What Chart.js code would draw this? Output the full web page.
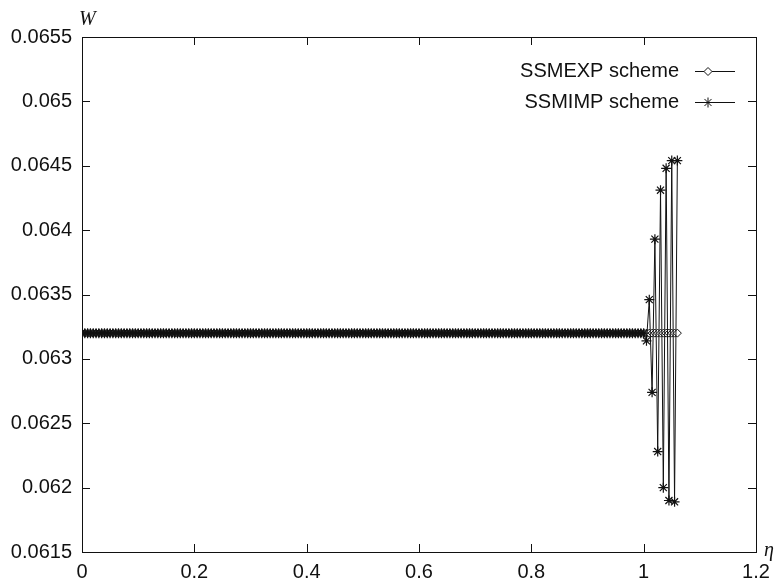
<!DOCTYPE html>
<html>
<head>
<meta charset="utf-8">
<title>W vs eta</title>
<script src="https://cdn.jsdelivr.net/npm/chart.js@4.4.1/dist/chart.umd.min.js"></script>
<style>
  html, body { margin: 0; padding: 0; background: #fff; }
  canvas { display: block; }
</style>
</head>
<body>
<canvas id="wChart" width="779" height="584"></canvas>
<script>
// grid in eta
const eta = [
  0, 0.005, 0.01, 0.015, 0.02, 0.025, 0.03, 0.035, 0.04, 0.045, 0.05, 0.055, 0.06, 0.065, 0.07, 0.075, 0.08, 0.085, 0.09, 0.095,
  0.1, 0.105, 0.11, 0.115, 0.12, 0.125, 0.13, 0.135, 0.14, 0.145, 0.15, 0.155, 0.16, 0.165, 0.17, 0.175, 0.18, 0.185, 0.19, 0.195,
  0.2, 0.205, 0.21, 0.215, 0.22, 0.225, 0.23, 0.235, 0.24, 0.245, 0.25, 0.255, 0.26, 0.265, 0.27, 0.275, 0.28, 0.285, 0.29, 0.295,
  0.3, 0.305, 0.31, 0.315, 0.32, 0.325, 0.33, 0.335, 0.34, 0.345, 0.35, 0.355, 0.36, 0.365, 0.37, 0.375, 0.38, 0.385, 0.39, 0.395,
  0.4, 0.405, 0.41, 0.415, 0.42, 0.425, 0.43, 0.435, 0.44, 0.445, 0.45, 0.455, 0.46, 0.465, 0.47, 0.475, 0.48, 0.485, 0.49, 0.495,
  0.5, 0.505, 0.51, 0.515, 0.52, 0.525, 0.53, 0.535, 0.54, 0.545, 0.55, 0.555, 0.56, 0.565, 0.57, 0.575, 0.58, 0.585, 0.59, 0.595,
  0.6, 0.605, 0.61, 0.615, 0.62, 0.625, 0.63, 0.635, 0.64, 0.645, 0.65, 0.655, 0.66, 0.665, 0.67, 0.675, 0.68, 0.685, 0.69, 0.695,
  0.7, 0.705, 0.71, 0.715, 0.72, 0.725, 0.73, 0.735, 0.74, 0.745, 0.75, 0.755, 0.76, 0.765, 0.77, 0.775, 0.78, 0.785, 0.79, 0.795,
  0.8, 0.805, 0.81, 0.815, 0.82, 0.825, 0.83, 0.835, 0.84, 0.845, 0.85, 0.855, 0.86, 0.865, 0.87, 0.875, 0.88, 0.885, 0.89, 0.895,
  0.9, 0.905, 0.91, 0.915, 0.92, 0.925, 0.93, 0.935, 0.94, 0.945, 0.95, 0.955, 0.96, 0.965, 0.97, 0.975, 0.98, 0.985, 0.99, 0.995,
  1, 1.005, 1.01, 1.015, 1.02, 1.025, 1.03, 1.035, 1.04, 1.045, 1.05, 1.055, 1.06
];

// explicit scheme stays flat all the way
const wExp = [
  0.0632, 0.0632, 0.0632, 0.0632, 0.0632, 0.0632, 0.0632, 0.0632, 0.0632, 0.0632, 0.0632, 0.0632, 0.0632, 0.0632, 0.0632, 0.0632, 0.0632, 0.0632, 0.0632, 0.0632,
  0.0632, 0.0632, 0.0632, 0.0632, 0.0632, 0.0632, 0.0632, 0.0632, 0.0632, 0.0632, 0.0632, 0.0632, 0.0632, 0.0632, 0.0632, 0.0632, 0.0632, 0.0632, 0.0632, 0.0632,
  0.0632, 0.0632, 0.0632, 0.0632, 0.0632, 0.0632, 0.0632, 0.0632, 0.0632, 0.0632, 0.0632, 0.0632, 0.0632, 0.0632, 0.0632, 0.0632, 0.0632, 0.0632, 0.0632, 0.0632,
  0.0632, 0.0632, 0.0632, 0.0632, 0.0632, 0.0632, 0.0632, 0.0632, 0.0632, 0.0632, 0.0632, 0.0632, 0.0632, 0.0632, 0.0632, 0.0632, 0.0632, 0.0632, 0.0632, 0.0632,
  0.0632, 0.0632, 0.0632, 0.0632, 0.0632, 0.0632, 0.0632, 0.0632, 0.0632, 0.0632, 0.0632, 0.0632, 0.0632, 0.0632, 0.0632, 0.0632, 0.0632, 0.0632, 0.0632, 0.0632,
  0.0632, 0.0632, 0.0632, 0.0632, 0.0632, 0.0632, 0.0632, 0.0632, 0.0632, 0.0632, 0.0632, 0.0632, 0.0632, 0.0632, 0.0632, 0.0632, 0.0632, 0.0632, 0.0632, 0.0632,
  0.0632, 0.0632, 0.0632, 0.0632, 0.0632, 0.0632, 0.0632, 0.0632, 0.0632, 0.0632, 0.0632, 0.0632, 0.0632, 0.0632, 0.0632, 0.0632, 0.0632, 0.0632, 0.0632, 0.0632,
  0.0632, 0.0632, 0.0632, 0.0632, 0.0632, 0.0632, 0.0632, 0.0632, 0.0632, 0.0632, 0.0632, 0.0632, 0.0632, 0.0632, 0.0632, 0.0632, 0.0632, 0.0632, 0.0632, 0.0632,
  0.0632, 0.0632, 0.0632, 0.0632, 0.0632, 0.0632, 0.0632, 0.0632, 0.0632, 0.0632, 0.0632, 0.0632, 0.0632, 0.0632, 0.0632, 0.0632, 0.0632, 0.0632, 0.0632, 0.0632,
  0.0632, 0.0632, 0.0632, 0.0632, 0.0632, 0.0632, 0.0632, 0.0632, 0.0632, 0.0632, 0.0632, 0.0632, 0.0632, 0.0632, 0.0632, 0.0632, 0.0632, 0.0632, 0.0632, 0.0632,
  0.0632, 0.0632, 0.0632, 0.0632, 0.0632, 0.0632, 0.0632, 0.0632, 0.0632, 0.0632, 0.0632, 0.0632, 0.0632
];

// implicit scheme: flat, then oscillates past eta = 1
const wImp = [
  0.0632, 0.0632, 0.0632, 0.0632, 0.0632, 0.0632, 0.0632, 0.0632, 0.0632, 0.0632, 0.0632, 0.0632, 0.0632, 0.0632, 0.0632, 0.0632, 0.0632, 0.0632, 0.0632, 0.0632,
  0.0632, 0.0632, 0.0632, 0.0632, 0.0632, 0.0632, 0.0632, 0.0632, 0.0632, 0.0632, 0.0632, 0.0632, 0.0632, 0.0632, 0.0632, 0.0632, 0.0632, 0.0632, 0.0632, 0.0632,
  0.0632, 0.0632, 0.0632, 0.0632, 0.0632, 0.0632, 0.0632, 0.0632, 0.0632, 0.0632, 0.0632, 0.0632, 0.0632, 0.0632, 0.0632, 0.0632, 0.0632, 0.0632, 0.0632, 0.0632,
  0.0632, 0.0632, 0.0632, 0.0632, 0.0632, 0.0632, 0.0632, 0.0632, 0.0632, 0.0632, 0.0632, 0.0632, 0.0632, 0.0632, 0.0632, 0.0632, 0.0632, 0.0632, 0.0632, 0.0632,
  0.0632, 0.0632, 0.0632, 0.0632, 0.0632, 0.0632, 0.0632, 0.0632, 0.0632, 0.0632, 0.0632, 0.0632, 0.0632, 0.0632, 0.0632, 0.0632, 0.0632, 0.0632, 0.0632, 0.0632,
  0.0632, 0.0632, 0.0632, 0.0632, 0.0632, 0.0632, 0.0632, 0.0632, 0.0632, 0.0632, 0.0632, 0.0632, 0.0632, 0.0632, 0.0632, 0.0632, 0.0632, 0.0632, 0.0632, 0.0632,
  0.0632, 0.0632, 0.0632, 0.0632, 0.0632, 0.0632, 0.0632, 0.0632, 0.0632, 0.0632, 0.0632, 0.0632, 0.0632, 0.0632, 0.0632, 0.0632, 0.0632, 0.0632, 0.0632, 0.0632,
  0.0632, 0.0632, 0.0632, 0.0632, 0.0632, 0.0632, 0.0632, 0.0632, 0.0632, 0.0632, 0.0632, 0.0632, 0.0632, 0.0632, 0.0632, 0.0632, 0.0632, 0.0632, 0.0632, 0.0632,
  0.0632, 0.0632, 0.0632, 0.0632, 0.0632, 0.0632, 0.0632, 0.0632, 0.0632, 0.0632, 0.0632, 0.0632, 0.0632, 0.0632, 0.0632, 0.0632, 0.0632, 0.0632, 0.0632, 0.0632,
  0.0632, 0.0632, 0.0632, 0.0632, 0.0632, 0.0632, 0.0632, 0.0632, 0.0632, 0.0632, 0.0632, 0.0632, 0.0632, 0.0632, 0.0632, 0.0632, 0.0632, 0.0632, 0.0632, 0.0632,
  0.0632, 0.06314, 0.06346, 0.06274, 0.06393, 0.06228, 0.06431, 0.06200, 0.06448, 0.06190, 0.06454, 0.06189, 0.06454
];

const xTicks = [0, 0.2, 0.4, 0.6, 0.8, 1, 1.2];
const yTicks = [0.0615, 0.062, 0.0625, 0.063, 0.0635, 0.064, 0.0645, 0.065, 0.0655];
const seriesNames = ["SSMEXP scheme", "SSMIMP scheme"];

const FONT = "Liberation Sans, Arial, Helvetica, sans-serif";
const INK = "#111";

function toPoints(xs, ys) {
  return xs.map((x, i) => ({ x: x, y: ys[i] }));
}

// box, inward tick marks on all four sides, axis symbols and the key
const framePlugin = {
  id: "frame",
  afterDraw(chart) {
    const ctx = chart.ctx;
    const a = chart.chartArea;
    const sx = chart.scales.x, sy = chart.scales.y;
    const tick = 8;

    ctx.save();
    ctx.strokeStyle = INK;
    ctx.lineWidth = 1;
    ctx.strokeRect(Math.round(a.left) + 0.5, Math.round(a.top) + 0.5,
                   Math.round(a.right - a.left), Math.round(a.bottom - a.top));

    ctx.beginPath();
    xTicks.forEach(v => {
      const px = Math.round(sx.getPixelForValue(v)) + 0.5;
      ctx.moveTo(px, a.bottom); ctx.lineTo(px, a.bottom - tick);
      ctx.moveTo(px, a.top); ctx.lineTo(px, a.top + tick);
    });
    yTicks.forEach(v => {
      const py = Math.round(sy.getPixelForValue(v)) + 0.5;
      ctx.moveTo(a.left, py); ctx.lineTo(a.left + tick, py);
      ctx.moveTo(a.right, py); ctx.lineTo(a.right - tick, py);
    });
    ctx.stroke();

    // axis symbols
    ctx.fillStyle = INK;
    ctx.font = "italic 20px 'Liberation Serif', 'DejaVu Serif', serif";
    ctx.textAlign = "left";
    ctx.textBaseline = "alphabetic";
    ctx.fillText("W", a.left - 3, a.top - 12);
    ctx.fillText("\u03b7", a.right + 8, a.bottom + 4);

    // key
    const styles = [
      { pointStyle: "rectRot", radius: 4, borderWidth: 1 },
      { pointStyle: "star", radius: 5, borderWidth: 1 }
    ];
    const rowsY = [71, 102];
    ctx.font = "20px " + FONT;
    ctx.textAlign = "right";
    ctx.textBaseline = "middle";
    seriesNames.forEach((name, i) => {
      const y = rowsY[i];
      ctx.fillStyle = INK;
      ctx.fillText(name, 679, y);
      ctx.beginPath();
      ctx.moveTo(695, y + 0.5);
      ctx.lineTo(735, y + 0.5);
      ctx.stroke();
      ctx.fillStyle = "#fff";
      Chart.helpers.drawPoint(ctx, styles[i], 708, y + 0.5);
    });
    ctx.restore();
  }
};

new Chart(document.getElementById("wChart").getContext("2d"), {
  type: "line",
  data: {
    datasets: [
      {
        label: seriesNames[0],
        data: toPoints(eta, wExp),
        order: 1,
        borderColor: INK,
        borderWidth: 1,
        pointStyle: "rectRot",
        pointRadius: 4,
        pointBorderWidth: 1,
        pointBorderColor: INK,
        pointBackgroundColor: "#fff",
        tension: 0
      },
      {
        label: seriesNames[1],
        data: toPoints(eta, wImp),
        order: 0,
        borderColor: INK,
        borderWidth: 1,
        pointStyle: "star",
        pointRadius: 5,
        pointBorderWidth: 1.2,
        pointBorderColor: INK,
        pointBackgroundColor: INK,
        tension: 0
      }
    ]
  },
  options: {
    responsive: false,
    animation: false,
    devicePixelRatio: 1,
    layout: { padding: { top: 37, right: 23, left: 0, bottom: 0 } },
    plugins: {
      legend: { display: false },
      tooltip: { enabled: false }
    },
    elements: { line: { fill: false } },
    scales: {
      x: {
        type: "linear",
        min: 0,
        max: 1.2,
        grid: { display: false, drawTicks: false },
        border: { display: false },
        afterBuildTicks: s => { s.ticks = xTicks.map(v => ({ value: v })); },
        afterFit: s => { s.height = 32; },
        ticks: {
          color: INK,
          padding: 8,
          maxRotation: 0,
          font: { family: FONT, size: 20 },
          callback: v => String(v)
        }
      },
      y: {
        type: "linear",
        min: 0.0615,
        max: 0.0655,
        grid: { display: false, drawTicks: false },
        border: { display: false },
        afterBuildTicks: s => { s.ticks = yTicks.map(v => ({ value: v })); },
        afterFit: s => { s.width = 82; },
        ticks: {
          color: INK,
          padding: 10,
          font: { family: FONT, size: 20 },
          callback: v => String(Number(v.toFixed(4)))
        }
      }
    }
  },
  plugins: [framePlugin]
});
</script>
</body>
</html>
